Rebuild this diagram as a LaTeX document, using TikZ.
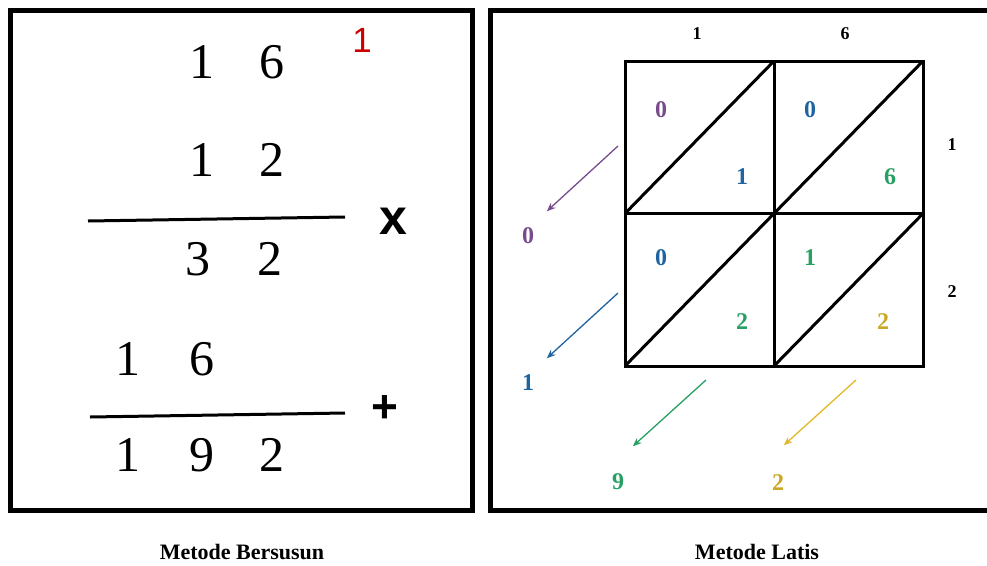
\documentclass[tikz,border=0pt]{standalone}
\usepackage{fontspec}
\setmainfont{Liberation Serif}
\newfontfamily\sansfont{Liberation Sans}
\usetikzlibrary{arrows.meta}
\definecolor{ungu}{RGB}{120,75,140}
\definecolor{biru}{RGB}{30,100,160}
\definecolor{hijau}{RGB}{40,160,100}
\definecolor{kuning}{RGB}{225,185,40}
\newcommand{\fs}[1]{\fontsize{#1}{#1}\selectfont}

\begin{document}
\begin{tikzpicture}[x=1pt, y=-1pt, >={Stealth[length=9pt,width=7pt]},
    frame/.style={line width=5pt},
    big/.style={font=\fs{50}},
    cell/.style={font=\fs{24}\bfseries},
    edge/.style={font=\fs{18}\bfseries},
    carry/.style={->, line width=1.3pt, shorten >=1pt}]
    \useasboundingbox (0,0) rectangle (987,565);

    % bersusun
    \begin{scope}
        \draw[frame] (10,10) rectangle (472,510);
        \node[big] (a1) at (202,62) {1};
        \node[big] (a2) at (272,62) {6};
        \node[font=\sansfont\fs{35}, text=red!80!black] (c1) at (362,40) {1};
        \node[big] (b1) at (202,160) {1};
        \node[big] (b2) at (272,160) {2};
        \draw[line width=3pt] (88,221) -- (345,217);
        \node[font=\sansfont\bfseries\fs{50}] (kali) at (393,221) {x};
        \node[big] (p1) at (198,259) {3};
        \node[big] (p2) at (270,259) {2};
        \node[big] (q1) at (128,359) {1};
        \node[big] (q2) at (202,359) {6};
        \draw[line width=3pt] (90,417) -- (345,413);
        \node[font=\sansfont\bfseries\fs{46}] (tambah) at (385,409) {+};
        \node[big] (h1) at (128,455) {1};
        \node[big] (h2) at (202,455) {9};
        \node[big] (h3) at (272,455) {2};
        \node[font=\fs{22}\bfseries] (judulA) at (242,552) {Metode Bersusun};
    \end{scope}

    % latis
    \begin{scope}
        \draw[frame] (490,10) rectangle (990,510);
        \draw[line width=3pt] (625,61) rectangle (923,366)
            (774,61) -- (774,366) (625,213.5) -- (923,213.5);
        \foreach \x in {625,774}
            \foreach \y in {213.5,366}
                \draw[line width=3pt] (\x,\y) -- (\x+149,\y-152.5);
        \node[edge] (t1) at (697,34) {1};
        \node[edge] (t2) at (845,34) {6};
        \node[edge] (r1) at (952,145) {1};
        \node[edge] (r2) at (952,292) {2};
        \node[cell, text=ungu] (u1) at (661,110) {0};
        \node[cell, text=biru] (d1) at (742,177) {1};
        \node[cell, text=biru] (u2) at (810,110) {0};
        \node[cell, text=hijau] (d2) at (890,177) {6};
        \node[cell, text=biru] (u3) at (661,258) {0};
        \node[cell, text=hijau] (d3) at (742,322) {2};
        \node[cell, text=hijau] (u4) at (810,258) {1};
        \node[cell, text=kuning!90!black] (d4) at (883,322) {2};
        \node[cell, text=ungu] (s1) at (528,236) {0};
        \node[cell, text=biru] (s2) at (528,383) {1};
        \node[cell, text=hijau] (s3) at (618,482) {9};
        \node[cell, text=kuning!90!black] (s4) at (778,483) {2};
        \coordinate (e1) at (618,146);
        \coordinate (e2) at (618,293);
        \coordinate (e3) at (706,380);
        \coordinate (e4) at (856,380);
        \coordinate (f1) at (546,212);
        \coordinate (f2) at (546,359);
        \coordinate (f3) at (632,447);
        \coordinate (f4) at (783,446);
        \draw[carry, ungu] (e1) -- (f1);
        \draw[carry, biru] (e2) -- (f2);
        \draw[carry, hijau] (e3) -- (f3);
        \draw[carry, kuning] (e4) -- (f4);
        \node[font=\fs{22}\bfseries] (judulB) at (757,552) {Metode Latis};
    \end{scope}
\end{tikzpicture}
\end{document}
